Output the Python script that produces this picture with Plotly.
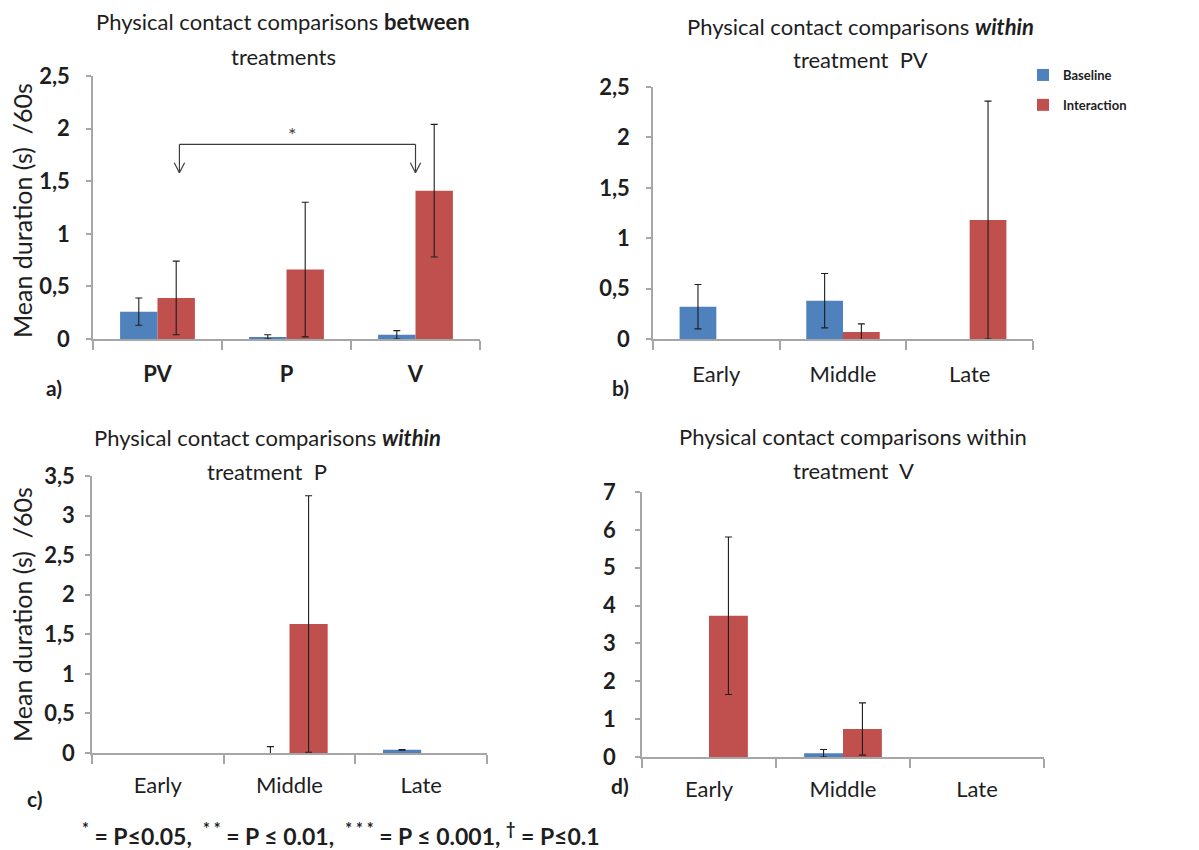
import plotly.graph_objects as go

# ---- data -------------------------------------------------------------
treatments = ["PV", "P", "V"]
periods = ["Early", "Middle", "Late"]
series_names = ["Baseline", "Interaction"]

# a) between treatments
a_base = [0.26, 0.02, 0.04]
a_base_err = [0.13, 0.02, 0.04]
a_int = [0.39, 0.66, 1.41]
a_int_err = [0.35, 0.64, 0.63]

# b) within treatment PV
b_base = [0.32, 0.38, 0]
b_base_err = [0.22, 0.27, None]
b_int = [0, 0.07, 1.18]
b_int_err = [None, 0.08, 1.18]

# c) within treatment P
c_base = [0, 0, 0.04]
c_base_err = [None, 0.08, 0.005]
c_int = [0, 1.63, 0]
c_int_err = [None, 1.62, None]

# d) within treatment V
d_base = [0, 0.10, 0]
d_base_err = [None, 0.10, None]
d_int = [3.73, 0.74, 0]
d_int_err = [2.08, 0.69, None]

y_title = "Mean duration (s)  /60s"
footnote = ("<sup>*</sup> = P≤0.05,  <sup>* *</sup> = P ≤ 0.01,  "
            "<sup>* * *</sup> = P ≤ 0.001, <sup>†</sup> = P≤0.1")

# ---- styling ------------------------------------------------------------
W, H = 1199, 850
BLUE = "#4F81BD"
RED = "#C0504D"
AXIS = "#a6a6a6"
INK = "#1e1e1e"
FONT = "Lato"


def xdom(left, right):
    return [left / W, right / W]


def ydom(top, bottom):
    return [(H - bottom) / H, (H - top) / H]


def plotted(vals, errs):
    # a zero bar with no error bar is left out so no stray cap is drawn
    return [None if (v == 0 and e is None) else v for v, e in zip(vals, errs)]


fig = go.Figure()

panels = [
    ("x", "y", treatments, a_base, a_base_err, a_int, a_int_err, True),
    ("x2", "y2", periods, b_base, b_base_err, b_int, b_int_err, False),
    ("x3", "y3", periods, c_base, c_base_err, c_int, c_int_err, False),
    ("x4", "y4", periods, d_base, d_base_err, d_int, d_int_err, False),
]

for xa, ya, cats, base, base_err, inter, inter_err, show in panels:
    for name, vals, errs, color in [
        (series_names[0], base, base_err, BLUE),
        (series_names[1], inter, inter_err, RED),
    ]:
        fig.add_trace(go.Bar(
            x=cats, y=plotted(vals, errs), name=name, marker_color=color,
            marker_line_width=0, textposition="none",
            error_y=dict(type="data", array=[e if e is not None else 0
                                             for e in errs],
                         color=INK, thickness=1.1, width=3.5),
            xaxis=xa, yaxis=ya, showlegend=show, legendgroup=name,
        ))

axis_common = dict(showline=True, linecolor=AXIS, linewidth=1.5,
                   showgrid=False, zeroline=False, automargin=False)

xcommon = dict(axis_common, ticks="outside", tickson="boundaries",
               ticklen=9, tickcolor=AXIS, tickwidth=1.5,
               tickfont=dict(family=FONT, size=22, color=INK),
               ticklabelstandoff=15)
ycommon = dict(axis_common, ticks="outside", ticklen=5, tickcolor=AXIS,
               tickwidth=1.5,
               tickfont=dict(family=FONT, size=22, color=INK, weight="bold"))

xa_font = dict(family=FONT, size=22, color=INK, weight="bold")

fig.update_layout(
    template="none",
    xaxis=dict(xcommon, domain=xdom(93, 480), anchor="y", tickfont=xa_font),
    yaxis=dict(ycommon, domain=ydom(76, 339), anchor="x",
               range=[0, 2.5], dtick=0.5, ticklabelstandoff=12),
    xaxis2=dict(xcommon, domain=xdom(653, 1033), anchor="y2"),
    yaxis2=dict(ycommon, domain=ydom(87, 339), anchor="x2",
                range=[0, 2.5], dtick=0.5, ticklabelstandoff=12),
    xaxis3=dict(xcommon, domain=xdom(92, 487), anchor="y3",
                ticklabelstandoff=12),
    yaxis3=dict(ycommon, domain=ydom(476, 753), anchor="x3",
                range=[0, 3.5], dtick=0.5, ticklabelstandoff=6),
    xaxis4=dict(xcommon, domain=xdom(642, 1044), anchor="y4",
                ticklabelstandoff=12),
    yaxis4=dict(ycommon, domain=ydom(492, 757), anchor="x4",
                range=[0, 7], dtick=1, ticklabelstandoff=15),
    barmode="group",
    bargap=0.42,
    bargroupgap=0,
    separators=", ",
    width=W, height=H,
    margin=dict(l=0, r=0, t=0, b=0, pad=0),
    paper_bgcolor="white",
    plot_bgcolor="white",
    font=dict(family=FONT, color=INK),
    legend=dict(x=1023 / W, y=(H - 60) / H, xanchor="left", yanchor="top",
                font=dict(family=FONT, size=13, color=INK, weight="bold"),
                tracegroupgap=10, traceorder="grouped",
                bgcolor="rgba(0,0,0,0)", itemwidth=30),
)

# significance bracket between PV and V in panel a
bracket = dict(type="line", xref="x", yref="y",
               line=dict(color="#3c3c3c", width=1.2))
left_x, right_x, top_y, tip_y = 0.17, 2.0, 1.85, 1.58
hw, hh = 0.04, 0.095
fig.add_shape(bracket, x0=left_x, x1=right_x, y0=top_y, y1=top_y)
for bx in (left_x, right_x):
    fig.add_shape(bracket, x0=bx, x1=bx, y0=top_y, y1=tip_y)
    fig.add_shape(bracket, x0=bx - hw, x1=bx, y0=tip_y + hh, y1=tip_y)
    fig.add_shape(bracket, x0=bx + hw, x1=bx, y0=tip_y + hh, y1=tip_y)
fig.add_annotation(x=1.05, y=1.95, xref="x", yref="y", text="*",
                   showarrow=False,
                   font=dict(family=FONT, size=20, color="#444"))


def paper_text(x, y, text, size, weight="bold", angle=0, xanchor="center"):
    fig.add_annotation(x=x / W, y=(H - y) / H, xref="paper", yref="paper",
                       text=text, showarrow=False, textangle=angle,
                       xanchor=xanchor, yanchor="middle",
                       font=dict(family=FONT, size=size, color=INK,
                                 weight=weight))


# panel titles (two lines each)
titles = [
    (283, 22, "Physical contact comparisons <b>between</b>", 57, "treatments"),
    (860, 26, "Physical contact comparisons <b><i>within</i></b>", 60,
     "treatment  PV"),
    (267, 437, "Physical contact comparisons <b><i>within</i></b>", 471,
     "treatment  P"),
    (853, 436, "Physical contact comparisons within", 470, "treatment  V"),
]
for cx, y1, line1, y2, line2 in titles:
    paper_text(cx, y1, line1, 22, weight="normal")
    paper_text(cx, y2, line2, 22, weight="normal")

# y axis titles
paper_text(22, 211, y_title, 25, weight="normal", angle=-90)
paper_text(22, 615, y_title, 25, weight="normal", angle=-90)

# panel letters
paper_text(54, 388, "a)", 21)
paper_text(620, 387, "b)", 21)
paper_text(35, 798, "c)", 21)
paper_text(620, 785, "d)", 21)

# significance key
paper_text(80, 834, footnote, 23, xanchor="left")

fig.write_html("out.html")
